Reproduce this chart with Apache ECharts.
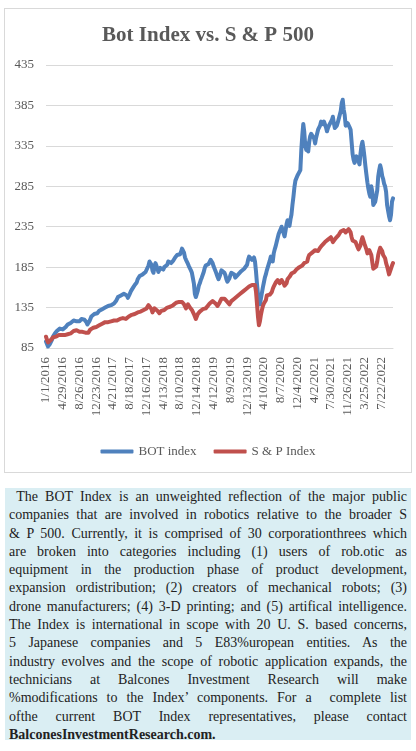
<!DOCTYPE html>
<html><head><meta charset="utf-8">
<script src="https://cdn.jsdelivr.net/npm/echarts@6/dist/echarts.min.js"></script>
<style>
html,body{margin:0;padding:0;background:#fff;width:416px;height:751px;overflow:hidden}
#chart{position:absolute;left:0;top:0;width:416px;height:480px}
#frame{position:absolute;left:4px;top:8px;width:406px;height:463px;border:1px solid #d9d9d9;pointer-events:none}
#note{position:absolute;left:5px;top:488px;width:398px;height:252px;padding:0 4px;background:#DAEEF3;font-family:"Liberation Serif",serif;font-size:14px;line-height:18.3px;color:#222;overflow:hidden}
#note div{white-space:nowrap;text-align:justify;text-align-last:justify;height:18.3px}
#note div.last{text-align-last:left;font-weight:bold}
</style></head>
<body>
<div id="chart"></div>
<div id="frame"></div>
<div id="note">
<div>&nbsp;The BOT Index is an unweighted reflection of the major public</div>
<div>companies that are involved in robotics relative to the broader S</div>
<div>&amp; P 500. Currently, it is comprised of 30 corporationthrees which</div>
<div>are broken into categories including (1) users of rob.otic as</div>
<div>equipment in the production phase of product development,</div>
<div>expansion ordistribution; (2) creators of mechanical robots; (3)</div>
<div>drone manufacturers; (4) 3-D printing; and (5) artifical intelligence.</div>
<div>The Index is international in scope with 20 U. S. based concerns,</div>
<div>5 Japanese companies and 5 E83%uropean entities. As the</div>
<div>industry evolves and the scope of robotic application expands, the</div>
<div>technicians at Balcones Investment Research will make</div>
<div>%modifications to the Index’ components. For a &nbsp;complete list</div>
<div>ofthe current BOT Index representatives, please contact</div>
<div class="last">BalconesInvestmentResearch.com.</div>
</div>
<script>
const titleText = 'Bot Index vs. S & P 500';
const seriesNames = ['BOT index', 'S & P Index'];
const tickLabels = ['1/1/2016','4/29/2016','8/26/2016','12/23/2016','4/21/2017','8/18/2017','12/16/2017','4/13/2018','8/10/2018','12/14/2018','4/12/2019','8/9/2019','12/13/2019','4/10/2020','8/7/2020','12/4/2020','4/2/2021','7/30/2021','11/26/2021','3/25/2022','7/22/2022'];
const botIndex = [
93,91,87,88,90,91,95,99,101,103,
104,106,107,108,109,111,110,108,107,108,
111,113,114,112,115,116,114,117,119,120,
119,118,117,116,118,119,121,122,121,120,
119,117,114,113,118,121,124,125,126,127,
126,125,128,130,131,130,132,133,132,134,
135,134,136,137,136,137,138,137,139,140,
141,143,145,148,147,149,150,149,151,152,
153,151,150,147,148,152,155,157,159,161,
163,164,166,170,172,174,173,174,176,175,
177,179,178,181,187,192,194,188,181,178,
185,190,187,183,179,180,184,186,184,182,
185,186,184,188,192,194,192,190,190,193,
195,197,198,200,201,202,201,204,208,206,
203,197,194,192,189,186,184,181,178,176,
165,152,148,149,156,162,165,169,172,174,
179,184,187,188,186,189,191,194,195,190,
186,183,180,178,173,170,173,177,181,180,
179,178,175,170,167,169,171,175,178,176,
179,176,172,171,174,176,177,178,180,181,
182,183,184,184,188,194,198,199,196,194,
195,197,192,180,165,152,143,139,146,153,
160,166,172,176,181,185,189,193,198,195,
192,202,207,211,216,221,226,229,232,235,
231,227,223,230,238,243,240,236,244,250,
262,272,284,292,294,298,296,300,305,330,
348,362,352,335,330,338,328,340,347,350,
348,351,344,338,345,350,355,353,360,365,
366,362,365,365,358,353,357,360,358,362,
367,371,363,357,357,360,364,362,365,378,
388,392,380,373,360,358,363,363,358,355,
340,325,318,314,318,322,320,316,312,325,
335,340,332,322,310,300,290,282,276,272,
285,278,262,260,266,268,280,297,305,311,
306,298,294,288,285,278,262,255,248,243,
250,266,270];
const spIndex = [
99,95,92,91,93,95,97,98,98,99,
99,100,100,101,100,101,101,100,100,101,
102,103,102,101,102,103,104,105,106,106,
107,107,106,105,105,106,105,105,104,105,
104,103,103,104,106,108,109,109,110,110,
111,111,112,112,113,113,114,115,115,116,
117,116,116,117,117,118,118,118,119,119,
120,120,119,120,121,121,122,121,122,120,
120,121,122,123,124,124,125,126,126,127,
127,128,128,129,127,129,130,131,131,132,
132,133,134,136,138,140,139,133,129,131,
134,133,134,131,129,128,130,131,132,132,
132,133,134,135,134,135,136,136,137,138,
139,140,141,142,142,142,143,142,142,141,
139,138,134,136,139,138,135,133,132,130,
127,124,121,123,127,128,130,131,132,133,
134,135,134,136,137,138,140,141,142,143,
144,142,140,138,137,139,141,143,146,146,
145,146,145,144,142,140,139,141,143,142,
144,146,148,148,149,150,151,152,153,154,
155,156,157,158,159,160,161,161,162,163,
164,165,163,155,140,124,113,118,126,132,
137,140,139,144,150,152,150,151,150,154,
158,161,163,166,168,169,167,165,166,169,
168,165,162,161,165,170,171,173,175,177,
178,177,179,181,182,183,184,185,186,187,
187,189,190,189,191,192,197,200,201,200,
203,204,205,206,207,204,205,207,209,211,
212,213,214,216,217,218,219,220,221,222,
221,216,215,218,221,223,223,225,227,229,
229,230,231,230,228,227,229,232,233,228,
222,218,220,217,216,214,210,207,206,212,
218,222,220,214,212,207,202,204,206,205,
200,191,183,181,184,186,192,200,205,209,
210,205,200,198,196,190,186,181,176,175,
178,187,190];
const yMin = 85, yMax = 435, yStep = 50, labelEvery = 17;

// weekly category dates
const categories = [];
const start = new Date(2016, 0, 1);
for (let i = 0; i < botIndex.length; i++) {
  const d = new Date(start.getTime());
  d.setDate(d.getDate() + 7 * i);
  categories.push((d.getMonth() + 1) + '/' + d.getDate() + '/' + d.getFullYear());
}

const serif = '"Liberation Serif", "DejaVu Serif", serif';
const chart = echarts.init(document.getElementById('chart'));
chart.setOption({
  animation: false,
  backgroundColor: '#fff',
  title: {
    text: titleText, left: 'center', top: 20,
    textStyle: { fontFamily: serif, fontWeight: 'bold', fontSize: 21, color: '#595959' }
  },
  grid: { left: 46, right: 23, top: 65, bottom: 132, containLabel: false },
  legend: {
    data: seriesNames, top: 440, left: 'center', itemGap: 17,
    itemWidth: 33, itemHeight: 4, icon: 'roundRect',
    textStyle: { fontFamily: serif, fontSize: 13, color: '#595959' }
  },
  xAxis: {
    type: 'category', data: categories, boundaryGap: false,
    axisLine: { show: true, lineStyle: { color: '#d9d9d9' } },
    axisTick: { show: false },
    axisLabel: {
      rotate: 90, interval: labelEvery - 1, margin: 9,
      fontFamily: serif, fontSize: 13, color: '#595959',
      formatter: function (v, idx) { return idx % labelEvery === 0 ? (tickLabels[idx / labelEvery] || '') : ''; }
    }
  },
  yAxis: {
    type: 'value', min: yMin, max: yMax, interval: yStep,
    axisLine: { show: false }, axisTick: { show: false },
    splitLine: { lineStyle: { color: '#d9d9d9' } },
    axisLabel: { fontFamily: serif, fontSize: 13, color: '#595959', margin: 12 }
  },
  series: [
    { name: seriesNames[0], type: 'line', data: botIndex, showSymbol: false,
      lineStyle: { width: 4, color: '#4F81BD', cap: 'round', join: 'round' }, itemStyle: { color: '#4F81BD' } },
    { name: seriesNames[1], type: 'line', data: spIndex, showSymbol: false,
      lineStyle: { width: 4, color: '#C0504D', cap: 'round', join: 'round' }, itemStyle: { color: '#C0504D' } }
  ]
});
</script>
</body></html>
